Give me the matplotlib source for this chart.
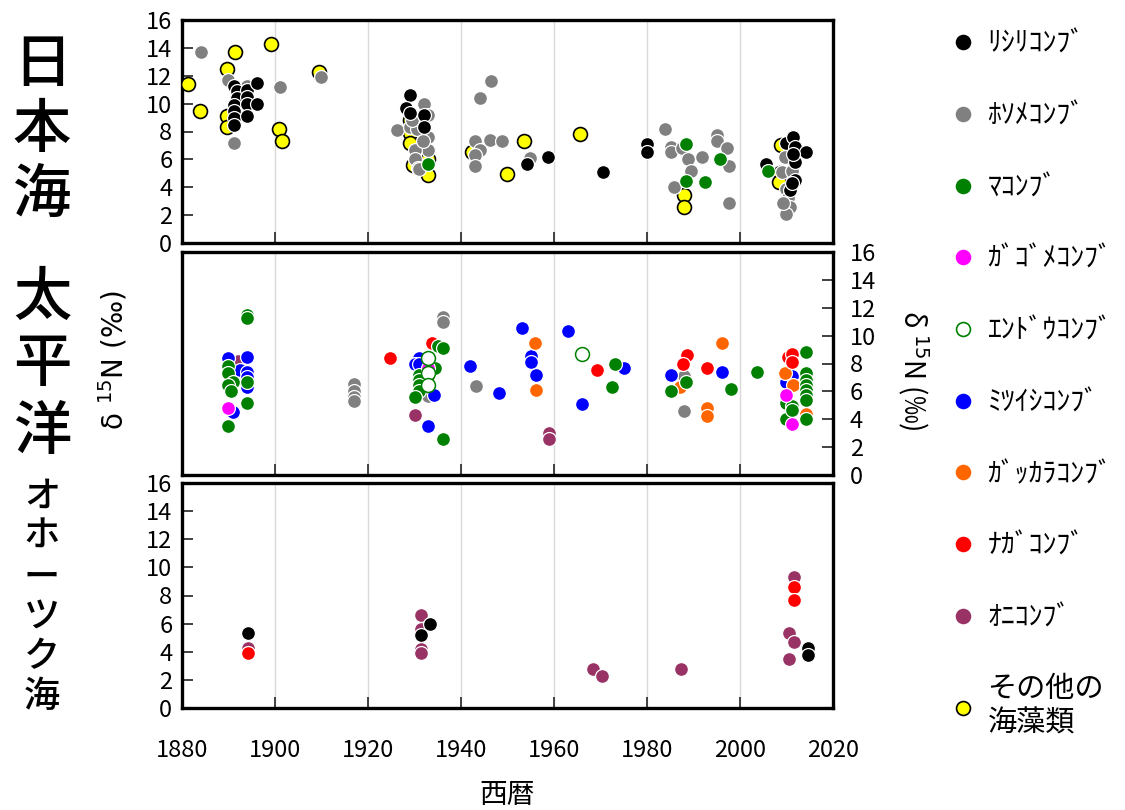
import matplotlib
matplotlib.use('Agg')
import matplotlib.pyplot as plt
from matplotlib.lines import Line2D

plt.rcParams['font.family'] = ['Noto Sans CJK JP', 'DejaVu Sans']

# ---------------- categories ----------------
species_codes = ['R', 'H', 'M', 'G', 'E', 'Mi', 'Ga', 'N', 'O', 'X']
species_labels = ['ﾘｼﾘｺﾝﾌﾞ', 'ﾎｿﾒｺﾝﾌﾞ', 'ﾏｺﾝﾌﾞ', 'ｶﾞｺﾞﾒｺﾝﾌﾞ', 'ｴﾝﾄﾞｳｺﾝﾌﾞ',
                  'ﾐﾂｲｼｺﾝﾌﾞ', 'ｶﾞｯｶﾗｺﾝﾌﾞ', 'ﾅｶﾞｺﾝﾌﾞ', 'ｵﾆｺﾝﾌﾞ', 'その他の\n海藻類']
region_labels = ['日本海', '太平洋', 'オホーツク海']
x_ticks = [1880, 1900, 1920, 1940, 1960, 1980, 2000, 2020]
y_ticks = [0, 2, 4, 6, 8, 10, 12, 14, 16]

# ---------------- Japan Sea (top) ----------------
jpn_X_year = [1881.2, 1883.8, 1891.4, 1889.6, 1899.1, 1909.5, 1900.9, 1901.6, 1889.6, 1889.6,
              1929.0, 1929.0, 1929.0, 1929.7, 1933.0, 1933.0, 1942.3, 1950.0, 1953.6, 1965.6,
              1988.0, 1988.0, 2008.8, 2008.6, 2008.4]
jpn_X_d15n = [11.4, 9.5, 13.7, 12.5, 14.3, 12.25, 8.2, 7.3, 9.1, 8.3,
              8.8, 7.9, 7.15, 5.6, 6.0, 4.9, 6.5, 4.95, 7.35, 7.8,
              3.45, 2.6, 7.0, 5.0, 4.4]
jpn_H_year = [1884.0, 1890.0, 1891.2, 1893.9, 1901.1, 1910.0, 1926.2, 1932.1, 1933.0, 1929.0,
              1930.5, 1933.0, 1933.0, 1930.1, 1930.1, 1930.8, 1931.9, 1929.4, 1931.0, 1946.5,
              1944.1, 1943.0, 1944.1, 1946.2, 1948.8, 1943.0, 1943.0, 1954.8, 1983.9, 1985.1,
              1985.1, 1987.5, 1988.9, 1991.8, 1989.4, 1985.7, 1995.0, 1995.1, 1997.1, 1997.6,
              1997.6, 2009.0, 2010.0, 2010.4, 2010.8, 2010.0, 2009.7, 2011.1, 2009.3]
jpn_H_d15n = [13.7, 11.7, 7.2, 11.3, 11.2, 11.9, 8.1, 10.0, 9.2, 8.3,
              8.2, 7.6, 6.7, 6.7, 6.0, 5.4, 7.3, 8.8, 5.3, 11.6,
              10.4, 7.3, 6.7, 7.4, 7.3, 6.3, 5.5, 6.1, 8.2, 6.9,
              6.55, 6.8, 6.0, 6.2, 5.2, 4.0, 7.75, 7.3, 6.8, 5.55,
              2.9, 5.1, 3.9, 3.2, 2.6, 2.1, 6.2, 5.2, 2.85]
jpn_R_year = [1891.2, 1891.9, 1891.8, 1891.2, 1891.2, 1891.2, 1891.2, 1893.9, 1893.9, 1893.9,
              1893.9, 1896.1, 1896.1, 1929.0, 1928.1, 1929.0, 1932.1, 1932.1, 1954.1, 1958.8,
              1970.6, 1980.1, 1980.1, 2005.6, 2010.0, 2011.4, 2011.8, 2011.8, 2014.3, 2011.8,
              2010.8, 2011.3, 2011.1]
jpn_R_d15n = [11.3, 10.9, 10.4, 9.9, 9.5, 9.0, 8.5, 11.0, 10.5, 10.0,
              9.1, 11.5, 10.0, 10.6, 9.7, 9.3, 9.2, 8.3, 5.7, 6.2,
              5.1, 7.1, 6.5, 5.7, 7.15, 7.6, 6.9, 5.8, 6.55, 4.5,
              3.8, 6.4, 4.3]
jpn_M_year = [1933.0, 1988.3, 1988.3, 1992.5, 1995.6, 2006.1]
jpn_M_d15n = [5.7, 7.1, 4.45, 4.4, 6.0, 5.2]

# ---------------- Pacific (middle) ----------------
pac_H_year = [1917.0, 1917.0, 1917.0, 1917.0, 1936.1, 1936.1, 1933.0, 1943.2, 1988.0, 1988.0]
pac_H_d15n = [6.5, 6.0, 5.6, 5.3, 11.35, 10.95, 5.7, 6.4, 7.1, 4.6]
pac_O_year = [1892.1, 1930.1, 1933.0, 1959.0, 1959.0]
pac_O_d15n = [8.2, 4.3, 7.1, 3.0, 2.6]
pac_Mi_year = [1890.0, 1894.0, 1892.5, 1893.9, 1893.9, 1894.0, 1891.0, 1931.0, 1930.1, 1931.0,
               1934.2, 1933.0, 1941.9, 1948.2, 1953.1, 1955.0, 1955.0, 1956.1, 1963.1, 1975.1,
               1966.0, 1985.2, 1996.1, 2010.0, 2011.1]
pac_Mi_d15n = [8.4, 8.5, 7.5, 7.4, 7.05, 6.3, 4.5, 8.4, 8.0, 8.0,
               5.75, 3.55, 7.8, 5.85, 10.55, 8.55, 8.1, 7.2, 10.3, 7.7,
               5.1, 7.2, 7.4, 6.7, 7.1]
pac_Ga_year = [1956.0, 1956.1, 1987.1, 1993.0, 1993.0, 1996.1, 2009.7, 2011.5, 2014.3]
pac_Ga_d15n = [9.5, 6.1, 6.3, 4.8, 4.25, 9.5, 7.3, 6.45, 4.4]
pac_N_year = [1924.7, 1933.7, 1969.3, 1988.7, 1987.7, 1993.0, 2010.4, 2011.1, 2011.1]
pac_N_d15n = [8.4, 9.5, 7.5, 8.6, 7.95, 7.7, 8.5, 8.7, 8.1]
pac_M_year = [1894.0, 1894.0, 1890.0, 1890.0, 1891.0, 1890.0, 1890.6, 1894.0, 1894.0, 1890.0,
              1935.1, 1936.1, 1934.4, 1931.0, 1931.0, 1931.0, 1931.0, 1930.1, 1936.1, 1973.1,
              1972.5, 1985.2, 1988.4, 1998.0, 2003.6, 2014.3, 2010.0, 2011.1, 2014.3, 2014.3,
              2014.3, 2014.3, 2014.3, 2014.3, 2014.3, 2010.0, 2011.1]
pac_M_d15n = [11.5, 11.3, 7.8, 7.3, 6.7, 6.45, 6.0, 6.65, 5.2, 3.5,
              9.25, 9.1, 7.7, 7.2, 6.8, 6.45, 6.0, 5.6, 2.6, 7.95,
              6.3, 6.0, 6.7, 6.2, 7.4, 8.85, 5.2, 4.95, 7.3, 6.8,
              6.45, 6.1, 5.75, 5.4, 4.05, 4.05, 4.65]
pac_G_year = [1890.0, 1933.0, 2010.0, 2011.1]
pac_G_d15n = [4.8, 7.65, 5.75, 3.65]
pac_E_year = [1933.0, 1933.0, 1933.0, 1966.1]
pac_E_d15n = [8.4, 7.3, 6.45, 8.7]

# ---------------- Sea of Okhotsk (bottom) ----------------
okh_R_year = [1894.3, 1933.4, 1931.3, 2014.6, 2014.6]
okh_R_d15n = [5.3, 6.0, 5.2, 4.25, 3.75]
okh_O_year = [1894.3, 1931.3, 1931.3, 1931.3, 1931.3, 1968.3, 1970.3, 1987.4, 2011.6, 2010.5,
              2011.6, 2010.5]
okh_O_d15n = [4.25, 6.6, 5.65, 4.2, 3.9, 2.8, 2.3, 2.75, 9.3, 5.35, 4.7, 3.45]
okh_N_year = [1894.3, 2011.6, 2011.6]
okh_N_d15n = [3.9, 8.6, 7.7]

# ---------------- styles ----------------
face = {'R': '#000000', 'H': '#808080', 'M': '#008000', 'G': '#FF00FF', 'E': '#FFFFFF',
        'Mi': '#0000FF', 'Ga': '#FF6600', 'N': '#FF0000', 'O': '#993366', 'X': '#FFFF00'}
edge = {'R': 'white', 'H': 'white', 'M': 'white', 'G': 'white', 'E': '#008000',
        'Mi': 'white', 'Ga': 'white', 'N': 'white', 'O': 'white', 'X': 'black'}
ewidth = {c: 0.9 for c in species_codes}
ewidth['X'] = 1.2
ewidth['E'] = 1.1

panels = [
    [('X', jpn_X_year, jpn_X_d15n), ('H', jpn_H_year, jpn_H_d15n),
     ('R', jpn_R_year, jpn_R_d15n), ('M', jpn_M_year, jpn_M_d15n)],
    [('H', pac_H_year, pac_H_d15n), ('O', pac_O_year, pac_O_d15n),
     ('Mi', pac_Mi_year, pac_Mi_d15n), ('Ga', pac_Ga_year, pac_Ga_d15n),
     ('N', pac_N_year, pac_N_d15n), ('M', pac_M_year, pac_M_d15n),
     ('G', pac_G_year, pac_G_d15n), ('E', pac_E_year, pac_E_d15n)],
    [('O', okh_O_year, okh_O_d15n), ('N', okh_N_year, okh_N_d15n),
     ('R', okh_R_year, okh_R_d15n)],
]

FW, FH = 1125, 810
fig = plt.figure(figsize=(FW / 100, FH / 100), dpi=100)
fig.patch.set_facecolor('white')

L = 182 / FW
W = (833 - 182) / FW


def rect(top, bot):
    return [L, 1 - bot / FH, W, (bot - top) / FH]


axes = [fig.add_axes(rect(20, 243)), fig.add_axes(rect(252, 475)), fig.add_axes(rect(483, 708))]

for i, ax in enumerate(axes):
    ax.set_xlim(1880, 2020)
    ax.set_ylim(0, 16)
    ax.set_xticks(x_ticks)
    ax.set_yticks(y_ticks)
    ax.grid(axis='x', color='#d9d9d9', lw=1.0)
    ax.set_axisbelow(True)
    for s in ax.spines.values():
        s.set_linewidth(2.4)
        s.set_color('black')
    ax.tick_params(direction='in', length=8, width=1.3, colors='#333333', labelcolor='black',
                   labelsize=17)
    ax.tick_params(axis='y', pad=7)
    if i < 2:
        ax.tick_params(axis='x', labelbottom=False)
    else:
        ax.tick_params(axis='x', pad=22)
    if i == 1:
        ax.yaxis.tick_right()
        ax.tick_params(axis='y', pad=12)
    for code, xs, ys in panels[i]:
        ax.scatter(xs, ys, s=100, c=face[code], edgecolors=edge[code],
                   linewidths=ewidth[code], zorder=3)

axes[2].set_xlabel('西暦', fontsize=20, labelpad=13)

ylab = 'δ $^{15}$N (‰)'
fig.text(113 / FW, 1 - 360 / FH, ylab, rotation=90, ha='center', va='center',
         fontsize=20, family=['DejaVu Sans'])
fig.text(913 / FW, 1 - 370 / FH, ylab, rotation=270, ha='center', va='center',
         fontsize=20)

# region labels (vertical text)
for ch, yc in zip(region_labels[0], [65, 130, 195]):
    fig.text(42 / FW, 1 - yc / FH, ch, fontsize=42, ha='center', va='center', weight='medium')
for ch, yc in zip(region_labels[1], [298, 365, 432]):
    fig.text(42 / FW, 1 - yc / FH, ch, fontsize=42, ha='center', va='center', weight='medium')
for ch, yc in zip(region_labels[2], [497, 537, 578, 618, 657, 697]):
    fig.text(42 / FW, 1 - yc / FH, ch, fontsize=26, ha='center', va='center', weight='medium')

handles = [Line2D([], [], ls='', marker='o', markersize=10, markerfacecolor=face[c],
                  markeredgecolor=('black' if c == 'X' else ('#008000' if c == 'E' else face[c])),
                  markeredgewidth=1.2) for c in species_codes]
leg = fig.legend(handles, species_labels, loc='upper left',
                 bbox_to_anchor=(950 / FW, 1 - 29 / FH), frameon=False, fontsize=20,
                 labelspacing=1.5, handletextpad=0.45, handlelength=0.9,
                 borderaxespad=0, borderpad=0)
leg.get_texts()[-1].set_fontsize(21)

fig.savefig('out.png', dpi=100, facecolor='white')
